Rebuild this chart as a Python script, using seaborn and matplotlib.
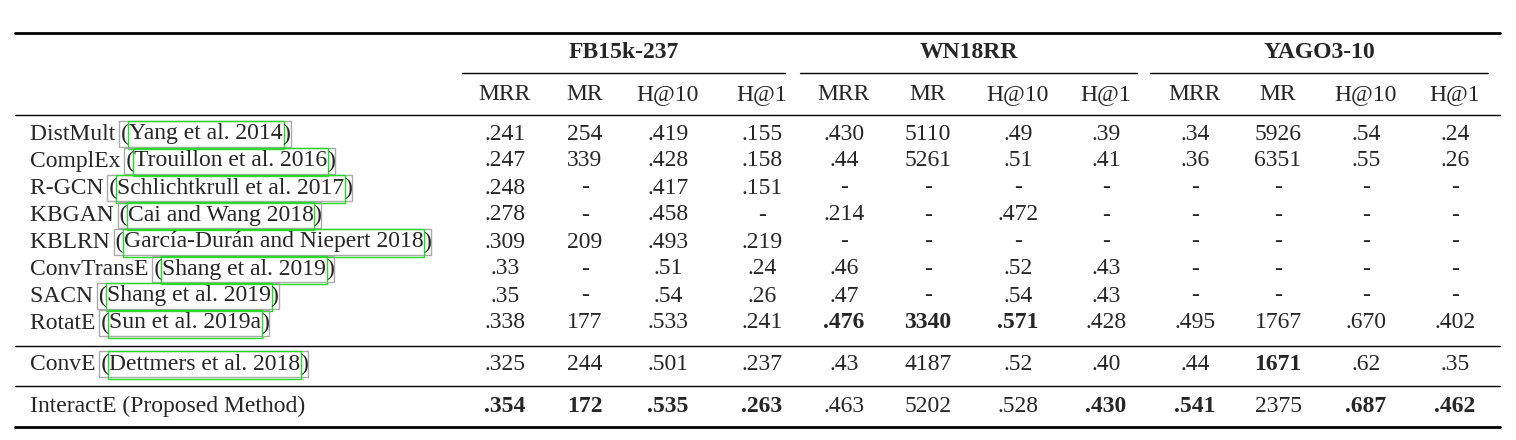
import matplotlib
matplotlib.use("Agg")
import matplotlib.pyplot as plt
import seaborn as sns
from matplotlib.patches import Rectangle

sns.set_theme(style="white")
plt.rcParams['font.family'] = ['Liberation Serif', 'DejaVu Serif']

groups = ["FB15k-237", "WN18RR", "YAGO3-10"]
metrics = ["MRR", "MR", "H@10", "H@1"]
models = ["DistMult", "ComplEx", "R-GCN", "KBGAN", "KBLRN", "ConvTransE", "SACN", "RotatE", "ConvE", "InteractE"]
citations = ["Yang et al. 2014", "Trouillon et al. 2016", "Schlichtkrull et al. 2017", "Cai and Wang 2018",
             "García-Durán and Niepert 2018", "Shang et al. 2019", "Shang et al. 2019", "Sun et al. 2019a",
             "Dettmers et al. 2018", None]
values = [
    [".241", "254", ".419", ".155", ".430", "5110", ".49", ".39", ".34", "5926", ".54", ".24"],
    [".247", "339", ".428", ".158", ".44", "5261", ".51", ".41", ".36", "6351", ".55", ".26"],
    [".248", "-", ".417", ".151", "-", "-", "-", "-", "-", "-", "-", "-"],
    [".278", "-", ".458", "-", ".214", "-", ".472", "-", "-", "-", "-", "-"],
    [".309", "209", ".493", ".219", "-", "-", "-", "-", "-", "-", "-", "-"],
    [".33", "-", ".51", ".24", ".46", "-", ".52", ".43", "-", "-", "-", "-"],
    [".35", "-", ".54", ".26", ".47", "-", ".54", ".43", "-", "-", "-", "-"],
    [".338", "177", ".533", ".241", ".476", "3340", ".571", ".428", ".495", "1767", ".670", ".402"],
    [".325", "244", ".501", ".237", ".43", "4187", ".52", ".40", ".44", "1671", ".62", ".35"],
    [".354", "172", ".535", ".263", ".463", "5202", ".528", ".430", ".541", "2375", ".687", ".462"],
]
bold = {7: [4, 5, 6], 8: [9], 9: [0, 1, 2, 3, 7, 8, 10, 11]}

W, H = 1516, 440
fig = plt.figure(figsize=(W / 100, H / 100), dpi=100)
ax = fig.add_axes([0, 0, 1, 1])
ax.set_xlim(0, W); ax.set_ylim(H, 0); ax.axis("off")

fs = 17
colx = [505, 585, 668, 762, 844, 928, 1018, 1106, 1195, 1278, 1366, 1455]
group_x = [(462, 785), (800, 1137), (1150, 1488)]
row_y = [134, 161, 188, 215, 242, 269, 296, 323, 364, 406]

ax.plot([15, 1500], [33, 33], color="black", lw=2)
ax.plot([15, 1500], [115, 115], color="black", lw=1)
ax.plot([15, 1500], [346, 346], color="black", lw=1)
ax.plot([15, 1500], [386, 386], color="black", lw=1)
ax.plot([15, 1500], [427, 427], color="black", lw=2)
for g, (a, b) in zip(groups, group_x):
    ax.text((a + b) / 2, 53, g, ha="center", va="center", fontsize=fs, fontweight="bold")
    ax.plot([a, b], [73, 73], color="black", lw=1)
for i, x in enumerate(colx):
    ax.text(x, 95, metrics[i % 4], ha="center", va="center", fontsize=fs)

fig.canvas.draw()
r = fig.canvas.get_renderer()
inv = ax.transData.inverted()
for i, (m, c) in enumerate(zip(models, citations)):
    y = row_y[i]
    if c is None:
        ax.text(30, y, m + " (Proposed Method)", ha="left", va="center", fontsize=fs)
    else:
        t = ax.text(30, y, m + " (", ha="left", va="center", fontsize=fs)
        bb = t.get_window_extent(r)
        x1 = inv.transform((bb.x1, 0))[0]
        t2 = ax.text(x1, y, c, ha="left", va="center", fontsize=fs)
        bb2 = t2.get_window_extent(r)
        x2 = inv.transform((bb2.x1, 0))[0]
        ax.text(x2, y, ")", ha="left", va="center", fontsize=fs)
        xs = inv.transform((bb.x1 - 10, 0))[0]
        ax.add_patch(Rectangle((xs, y - 13), x2 + 8 - xs, 26, fill=False, ec="#aaaaaa", lw=1))
        ax.add_patch(Rectangle((x1 - 1, y - 13), x2 - x1 + 2, 28, fill=False, ec="#22dd22", lw=1))
    for j, v in enumerate(values[i]):
        ax.text(colx[j], y, v, ha="center", va="center", fontsize=fs,
                fontweight="bold" if j in bold.get(i, []) else "normal")

fig.savefig("out.png", dpi=100)
